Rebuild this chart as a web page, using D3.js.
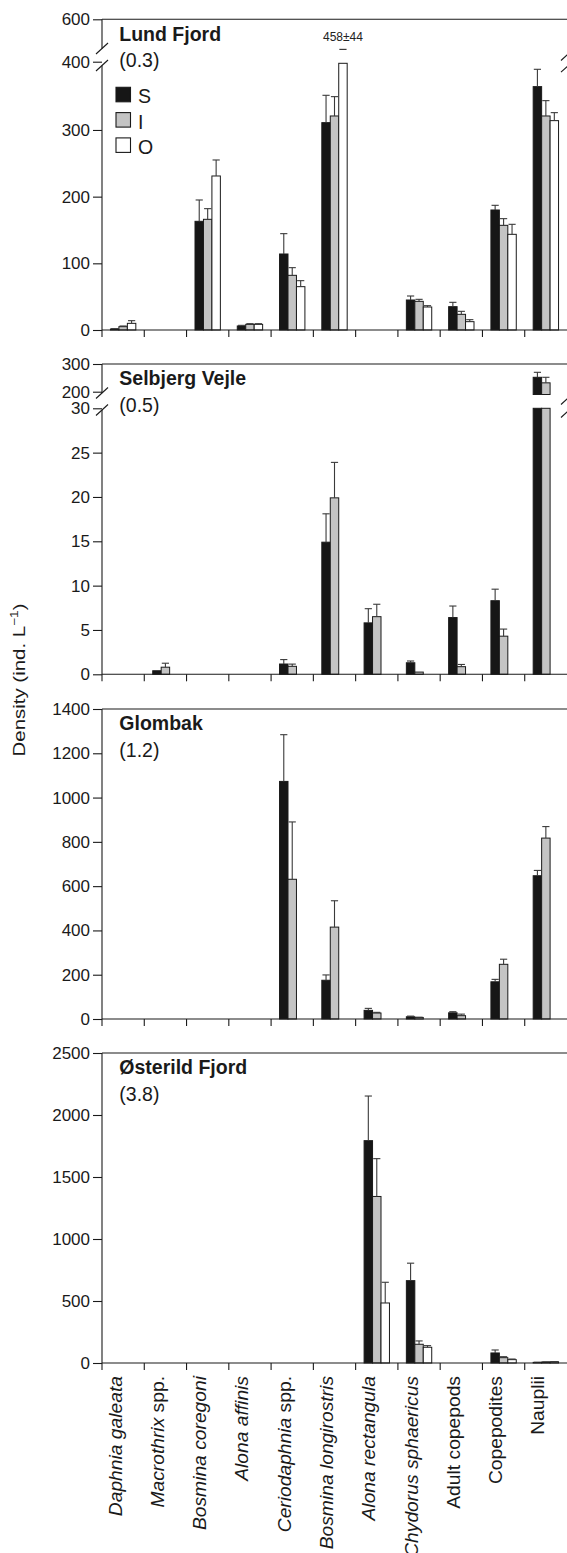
<!DOCTYPE html>
<html>
<head>
<meta charset="utf-8">
<script src="https://cdn.jsdelivr.net/npm/d3@7"></script>
<style>
  html, body { margin: 0; padding: 0; background: #fff; }
  svg { display: block; font-family: "Liberation Sans", Arial, Helvetica, sans-serif; }
</style>
</head>
<body>
<svg id="chart" width="567" height="1553"></svg>
<script>
// ---------------- DATA ----------------
const categories = ["Daphnia galeata", "Macrothrix spp.", "Bosmina coregoni", "Alona affinis",
  "Ceriodaphnia spp.", "Bosmina longirostris", "Alona rectangula", "Chydorus sphaericus",
  "Adult copepods", "Copepodites", "Nauplii"];
const labelItalic = ["Daphnia galeata", "Macrothrix", "Bosmina coregoni", "Alona affinis",
  "Ceriodaphnia", "Bosmina longirostris", "Alona rectangula", "Chydorus sphaericus", "", "", ""];
const labelPlain = ["", " spp.", "", "", " spp.", "", "", "", "Adult copepods", "Copepodites", "Nauplii"];
const seriesNames = ["S", "I", "O"];

const panelNames = ["Lund Fjord", "Selbjerg Vejle", "Glombak", "Østerild Fjord"];
const panelSalinity = ["(0.3)", "(0.5)", "(1.2)", "(3.8)"];

// Lund Fjord
const lundS    = [1.5, null, 163, 6, 114, 311, null, 45, 35, 180, 365];
const lundSErr = [0.5, null, 32, 1, 30.5, 41, null, 6, 6.5, 7, 26];
const lundI    = [5, null, 166, 8.5, 82, 321, null, 43, 23.5, 157, 321];
const lundIErr = [1, null, 16, 1, 11.5, 29, null, 3, 4.5, 10, 23];
const lundO    = [10, null, 231, 8.5, 65, 458, null, 34.5, 12.5, 143.5, 314];
const lundOErr = [4, null, 24, 1, 9, 44, null, 2, 3, 15, 12];
const lundTicks = [0, 100, 200, 300];
const lundUpperTicks = [400, 600];

// Selbjerg Vejle
const selbjergS    = [null, 0.4, null, null, 1.16, 14.9, 5.8, 1.3, 6.4, 8.3, 252];
const selbjergSErr = [null, 0, null, null, 0.5, 3.2, 1.6, 0.2, 1.3, 1.3, 18];
const selbjergI    = [null, 0.8, null, null, 0.9, 19.9, 6.5, 0.25, 0.86, 4.3, 232];
const selbjergIErr = [null, 0.45, null, null, 0.25, 4.0, 1.4, 0, 0.25, 0.8, 20];
const selbjergO    = [null, null, null, null, null, null, null, null, null, null, null];
const selbjergOErr = [null, null, null, null, null, null, null, null, null, null, null];
const selbjergTicks = [0, 5, 10, 15, 20, 25, 30];
const selbjergUpperTicks = [200, 300];

// Glombak
const glombakS    = [null, null, null, null, 1073, 175, 39, 10, 28, 168, 647];
const glombakSErr = [null, null, null, null, 211, 24, 9, 3, 5, 11, 24];
const glombakI    = [null, null, null, null, 631, 415, 27, 7, 15, 247, 817];
const glombakIErr = [null, null, null, null, 259, 119, 3, 1, 7, 23, 52];
const glombakO    = [null, null, null, null, null, null, null, null, null, null, null];
const glombakOErr = [null, null, null, null, null, null, null, null, null, null, null];
const glombakTicks = [0, 200, 400, 600, 800, 1000, 1200, 1400];

// Østerild Fjord
const osterildS    = [null, null, null, null, null, null, 1793, 664, null, 81, 5];
const osterildSErr = [null, null, null, null, null, null, 360, 141, null, 24, 1];
const osterildI    = [null, null, null, null, null, null, 1343, 151, null, 43, 8];
const osterildIErr = [null, null, null, null, null, null, 305, 27, null, 8, 1];
const osterildO    = [null, null, null, null, null, null, 484, 127, null, 27, 10];
const osterildOErr = [null, null, null, null, null, null, 167, 13, null, 5, 1];
const osterildTicks = [0, 500, 1000, 1500, 2000, 2500];

const panels = [
  { series: [lundS, lundI, lundO], errors: [lundSErr, lundIErr, lundOErr],
    ticks: lundTicks, upperTicks: lundUpperTicks, lowerMax: 400, upperDomain: [400, 600], mode: "annotate" },
  { series: [selbjergS, selbjergI, selbjergO], errors: [selbjergSErr, selbjergIErr, selbjergOErr],
    ticks: selbjergTicks, upperTicks: selbjergUpperTicks, lowerMax: 30, upperDomain: [200, 300], mode: "split" },
  { series: [glombakS, glombakI, glombakO], errors: [glombakSErr, glombakIErr, glombakOErr],
    ticks: glombakTicks, upperTicks: null, lowerMax: 1400, upperDomain: null, mode: null },
  { series: [osterildS, osterildI, osterildO], errors: [osterildSErr, osterildIErr, osterildOErr],
    ticks: osterildTicks, upperTicks: null, lowerMax: 2500, upperDomain: null, mode: null }
];

// ---------------- LAYOUT / STYLE ----------------
const X0 = 102, X1 = 567;
const layouts = [
  { base: 330, lowerTop: 63.3, upperRange: [61.7, 19.3], frameTop: 19.3,
    axisSegs: [[19.3, 48.5], [65.5, 330]], breaksL: [48.5, 65.5], breaksR: [55, 66.7] },
  { base: 674.3, lowerTop: 408.3, upperRange: [391.7, 364], upperBarBase: 394.5, frameTop: 364,
    axisSegs: [[364, 393], [410, 674.3]], breaksL: [393, 410], breaksR: [399, 412] },
  { base: 1019, lowerTop: 709, frameTop: 709, axisSegs: [[709, 1019]], breaksL: [], breaksR: [] },
  { base: 1363, lowerTop: 1053, frameTop: 1053, axisSegs: [[1053, 1363]], breaksL: [], breaksR: [] }
];
const fills = ["#161616", "#c4c4c4", "#ffffff"];
const lineCol = "#1a1a1a";
const errCol = "#3a3a3a";

const svg = d3.select("#chart");
svg.append("rect").attr("width", 567).attr("height", 1553).attr("fill", "#fff");

const x = d3.scaleBand().domain(categories).range([X0, X1]).padding(0);
const bw = x.bandwidth() * 0.2;
const slotX = (ci, si) => x(categories[ci]) + x.bandwidth() * 0.2 + si * bw;

function slash(g, cx, cy) {
  g.append("line").attr("x1", cx - 6).attr("y1", cy + 5.5).attr("x2", cx + 6).attr("y2", cy - 5.5)
    .attr("stroke", lineCol).attr("stroke-width", 1.1);
}
function errBar(g, cx, y1, y2) {
  g.append("line").attr("x1", cx).attr("x2", cx).attr("y1", y1).attr("y2", y2)
    .attr("stroke", errCol).attr("stroke-width", 1.1);
  g.append("line").attr("x1", cx - 3.6).attr("x2", cx + 3.6).attr("y1", y2).attr("y2", y2)
    .attr("stroke", errCol).attr("stroke-width", 1.1);
}
function stretch(t, f) {
  const n = t.node().getComputedTextLength();
  t.attr("textLength", n * f).attr("lengthAdjust", "spacingAndGlyphs");
}

panels.forEach((p, pi) => {
  const L = layouts[pi];
  const g = svg.append("g");
  const y = d3.scaleLinear().domain([0, p.lowerMax]).range([L.base, L.lowerTop]);
  const yu = p.upperDomain ? d3.scaleLinear().domain(p.upperDomain).range(L.upperRange) : null;

  // bars
  p.series.forEach((vals, si) => {
    vals.forEach((v, ci) => {
      if (v == null) return;
      const bx = slotX(ci, si);
      const cx = bx + bw / 2;
      const e = p.errors[si][ci];
      const over = yu && v > p.lowerMax;
      const vTop = over ? p.lowerMax : v;
      g.append("rect").attr("x", bx).attr("y", y(vTop)).attr("width", bw)
        .attr("height", L.base - y(vTop))
        .attr("fill", fills[si]).attr("stroke", lineCol).attr("stroke-width", 1);
      if (over) {
        if (p.mode === "split") {
          g.append("rect").attr("x", bx).attr("y", yu(v)).attr("width", bw)
            .attr("height", L.upperBarBase - yu(v))
            .attr("fill", fills[si]).attr("stroke", lineCol).attr("stroke-width", 1);
          if (e > 0) errBar(g, cx, yu(v), yu(v + e));
        } else {
          g.append("line").attr("x1", cx - 3.6).attr("x2", cx + 3.6)
            .attr("y1", yu(v)).attr("y2", yu(v)).attr("stroke", errCol).attr("stroke-width", 1.2);
          g.append("text").attr("x", cx).attr("y", L.frameTop + 21.4)
            .attr("text-anchor", "middle").attr("font-size", 12).attr("fill", "#222")
            .text(`${v}±${e}`);
        }
      } else if (e > 0) {
        errBar(g, cx, y(v), y(v + e));
      }
    });
  });

  // top frame line
  g.append("line").attr("x1", X0).attr("x2", X1).attr("y1", L.frameTop).attr("y2", L.frameTop)
    .attr("stroke", lineCol).attr("stroke-width", 1.1);
  // x baseline
  g.append("line").attr("x1", X0).attr("x2", X1).attr("y1", L.base).attr("y2", L.base)
    .attr("stroke", lineCol).attr("stroke-width", 1.1);
  // x ticks at category boundaries
  categories.forEach(c => {
    g.append("line").attr("x1", x(c)).attr("x2", x(c)).attr("y1", L.base).attr("y2", L.base + 7)
      .attr("stroke", lineCol).attr("stroke-width", 1.1);
  });
  // y axis segments
  L.axisSegs.forEach(s => {
    g.append("line").attr("x1", X0).attr("x2", X0).attr("y1", s[0]).attr("y2", s[1])
      .attr("stroke", lineCol).attr("stroke-width", 1.1);
  });
  L.breaksL.forEach(cy => slash(g, X0, cy));
  L.breaksR.forEach(cy => slash(g, X1, cy));

  // y ticks
  const styleAxis = sel => {
    sel.select(".domain").remove();
    sel.selectAll(".tick line").attr("stroke", lineCol).attr("stroke-width", 1.1);
    sel.selectAll(".tick text").attr("font-size", 17).attr("fill", "#1a1a1a")
      .attr("font-family", "'Liberation Sans', Arial, sans-serif");
  };
  g.append("g").attr("transform", `translate(${X0},0)`)
    .call(d3.axisLeft(y).tickValues(p.ticks).tickSize(9).tickPadding(3).tickFormat(d3.format("d")))
    .call(styleAxis);
  if (yu) {
    g.append("g").attr("transform", `translate(${X0},0)`)
      .call(d3.axisLeft(yu).tickValues(p.upperTicks).tickSize(9).tickPadding(3).tickFormat(d3.format("d")))
      .call(styleAxis);
  }

  // titles
  g.append("text").attr("x", 119.3).attr("y", L.frameTop + 21.4).attr("font-size", 19.5)
    .attr("font-weight", "bold").attr("fill", "#1a1a1a").text(panelNames[pi]);
  g.append("text").attr("x", 119.3).attr("y", L.frameTop + 47.8).attr("font-size", 19.5)
    .attr("fill", "#1a1a1a").text(panelSalinity[pi]);

  // legend in first panel
  if (pi === 0) {
    seriesNames.forEach((s, si) => {
      const ly = L.frameTop + 68 + si * 25.3;
      g.append("rect").attr("x", 116).attr("y", ly).attr("width", 14.5).attr("height", 14.5)
        .attr("fill", fills[si]).attr("stroke", lineCol).attr("stroke-width", 1.1);
      g.append("text").attr("x", 138).attr("y", ly + 16).attr("font-size", 19.5)
        .attr("fill", "#1a1a1a").text(s);
    });
  }

  // category labels under last panel
  if (pi === panels.length - 1) {
    categories.forEach((c, ci) => {
      const cx = x(c) + x.bandwidth() / 2 - 1.5;
      const t = g.append("text")
        .attr("transform", `translate(${cx},${L.base + 13}) rotate(-90)`)
        .attr("text-anchor", "end").attr("font-size", 17.5).attr("fill", "#1a1a1a");
      if (labelItalic[ci]) t.append("tspan").attr("font-style", "italic").text(labelItalic[ci]);
      if (labelPlain[ci]) t.append("tspan").text(labelPlain[ci]);
      stretch(t, 1.1);
    });
  }
});

// y-axis title
const yt = svg.append("text")
  .attr("transform", "translate(24.6,680) rotate(-90)")
  .attr("text-anchor", "middle").attr("font-size", 16.5).attr("fill", "#1a1a1a");
yt.append("tspan").text("Density (ind. L");
yt.append("tspan").attr("font-size", 11).attr("dy", -7).text("−1");
yt.append("tspan").attr("dy", 7).text(")");
yt.attr("textLength", 153).attr("lengthAdjust", "spacingAndGlyphs");
</script>
</body>
</html>
